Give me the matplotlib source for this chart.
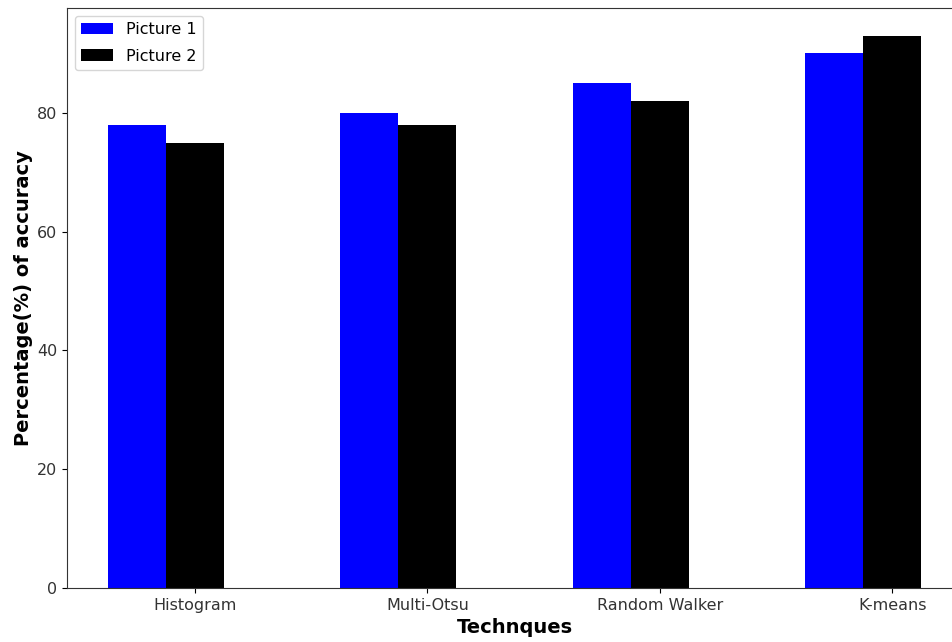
import numpy as np
import matplotlib
matplotlib.use("Agg")
import matplotlib.pyplot as plt

techniques = ["Histogram", "Multi-Otsu", "Random Walker", "K-means"]
picture1 = [78, 80, 85, 90]
picture2 = [75, 78, 82, 93]
series_names = ["Picture 1", "Picture 2"]

bar_width = 0.25
r1 = np.arange(len(techniques))
r2 = r1 + bar_width

fig = plt.figure(figsize=(9.53, 6.42), dpi=100)
# axes runs slightly past the right edge of the canvas
ax = fig.add_axes([67 / 953, 1 - 588 / 642, (962 - 67) / 953, (588 - 8) / 642])

ax.bar(r1, picture1, width=bar_width, color="blue", label=series_names[0])
ax.bar(r2, picture2, width=bar_width, color="black", label=series_names[1])

ax.set_xticks(r2)
ax.set_xticklabels(techniques, fontsize=11.5, color="#333333")
ax.tick_params(axis="y", labelsize=11.5, labelcolor="#333333")
ax.set_xlabel("Technques", fontsize=14, fontweight="bold", labelpad=4)
ax.set_ylabel("Percentage(%) of accuracy", fontsize=14, fontweight="bold", labelpad=3)
ax.set_ylim(0, 97.65)
ax.set_yticks([0, 20, 40, 60, 80])
for s in ax.spines.values():
    s.set_color("#333333")

ax.legend(loc="upper left", fontsize=11.5, labelspacing=0.7)

fig.savefig("out.png", dpi=100)
